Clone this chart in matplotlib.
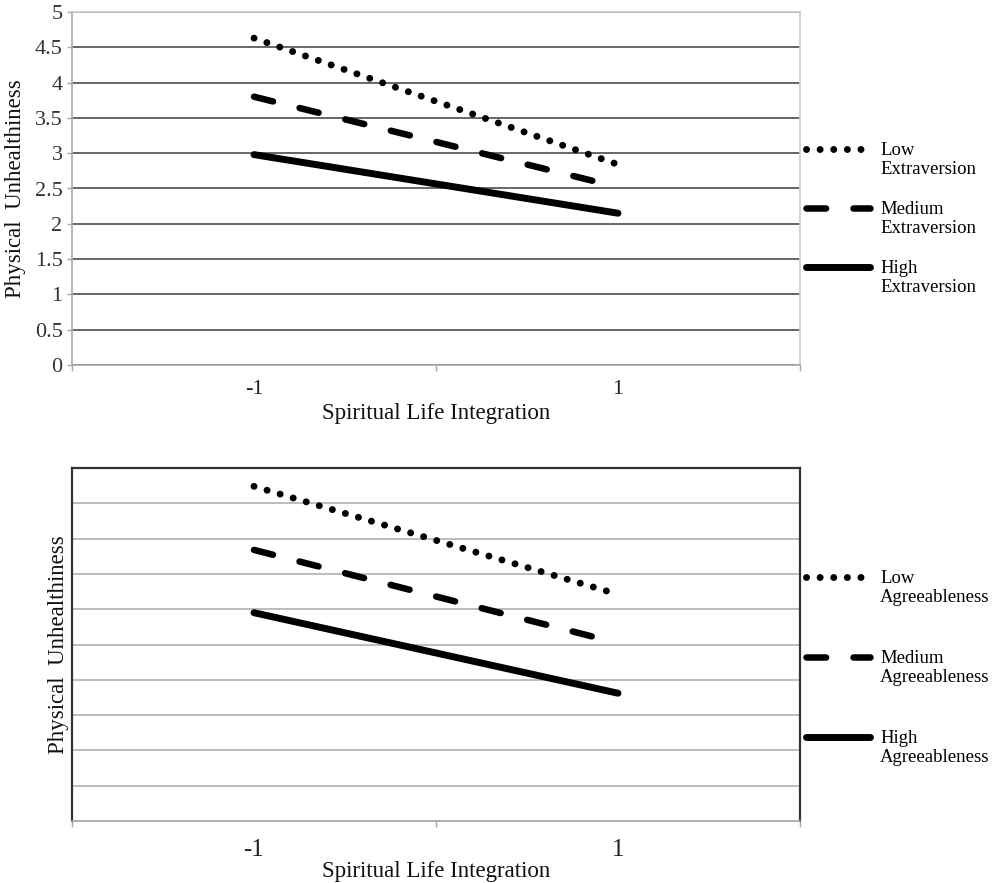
import matplotlib
matplotlib.use("Agg")
import matplotlib.pyplot as plt
import numpy as np

plt.rcParams['font.family'] = ['Liberation Serif', 'DejaVu Serif']

# category axis
x_labels = ['-1', '1']
x_pos = np.array([0.5, 1.5])

# top panel: extraversion
ext_names = ['Low\nExtraversion', 'Medium\nExtraversion', 'High\nExtraversion']
ext_low = [4.63, 2.84]
ext_med = [3.80, 2.52]
ext_high = [2.98, 2.15]

# bottom panel: agreeableness
agr_names = ['Low\nAgreeableness', 'Medium\nAgreeableness', 'High\nAgreeableness']
agr_low = [4.74, 3.21]
agr_med = [3.84, 2.52]
agr_high = [2.95, 1.81]

y_ticks = np.arange(0, 5.01, 0.5)

W, H = 1002, 883
fig = plt.figure(figsize=(W / 100, H / 100), dpi=100)
ax1 = fig.add_axes([72 / W, 1 - 365 / H, 728 / W, 353 / H])
ax2 = fig.add_axes([72 / W, 1 - 821 / H, 728 / W, 353 / H])

styles = [
    dict(lw=5.0, linestyle=(0, (0.01, 1.95)), dash_capstyle='round'),
    dict(lw=4.7, linestyle=(0, (3.0, 4.2)), dash_capstyle='round'),
    dict(lw=5.0, linestyle='-', solid_capstyle='round'),
]


def draw_panel(ax, series, names, grid_color, show_yticks, tick_size, tick_pad, xlabelpad, ylabelpad):
    for vals, name, st in zip(series, names, styles):
        ax.plot(x_pos, vals, color='black', label=name, **st)
    ax.set_xlim(0, 2)
    ax.set_ylim(0, 5)
    ax.set_yticks(y_ticks)
    ax.set_axisbelow(True)
    ax.yaxis.grid(True, color=grid_color, lw=1.3)
    ax.set_xticks([0, 1, 2])
    ax.set_xticklabels([])
    ax.set_xticks(x_pos, minor=True)
    ax.set_xticklabels(x_labels, minor=True)
    ax.tick_params(axis='x', which='major', length=4.5, width=1, color='#a8a8a8', direction='out')
    ax.tick_params(axis='x', which='minor', length=0, pad=tick_pad, labelsize=tick_size, labelcolor='#222222')
    if show_yticks:
        ax.set_yticklabels(['%g' % v for v in y_ticks])
        ax.tick_params(axis='y', length=3.8, width=1, color='#a8a8a8', direction='out',
                       labelsize=16, labelcolor='#333333', pad=3)
    else:
        ax.tick_params(axis='y', length=0, labelleft=False)
    ax.set_xlabel('Spiritual Life Integration', fontsize=16.5, color='#111111', labelpad=xlabelpad)
    ax.set_ylabel('Physical  Unhealthiness', fontsize=16.5, color='#111111', labelpad=ylabelpad)


draw_panel(ax1, [ext_low, ext_med, ext_high], ext_names, '#5a5a5a', True, 16, 11, 3, 6)
for s in ['top', 'right']:
    ax1.spines[s].set_color('#cccccc')
    ax1.spines[s].set_linewidth(1.2)
for s in ['left', 'bottom']:
    ax1.spines[s].set_color('#a8a8a8')
    ax1.spines[s].set_linewidth(1.2)

draw_panel(ax2, [agr_low, agr_med, agr_high], agr_names, '#b8b8b8', False, 18, 13, 0, 2)
for s in ['top', 'left', 'right']:
    ax2.spines[s].set_color('#333333')
    ax2.spines[s].set_linewidth(1.6)
ax2.spines['bottom'].set_color('#a8a8a8')
ax2.spines['bottom'].set_linewidth(1.2)

# tall handle boxes lift the sample line up to the first text line
leg_kw = dict(loc='upper left', frameon=False, borderpad=0, borderaxespad=0,
              handlelength=3.4, handletextpad=0.55, handleheight=4.7,
              prop={'size': 13.5})
fig.legend(*ax1.get_legend_handles_labels(), bbox_to_anchor=(806 / W, 1 - 131 / H),
           labelspacing=-0.16, **leg_kw)
fig.legend(*ax2.get_legend_handles_labels(), bbox_to_anchor=(806 / W, 1 - 559 / H),
           labelspacing=0.96, **leg_kw)

fig.savefig('out.png', dpi=100)
